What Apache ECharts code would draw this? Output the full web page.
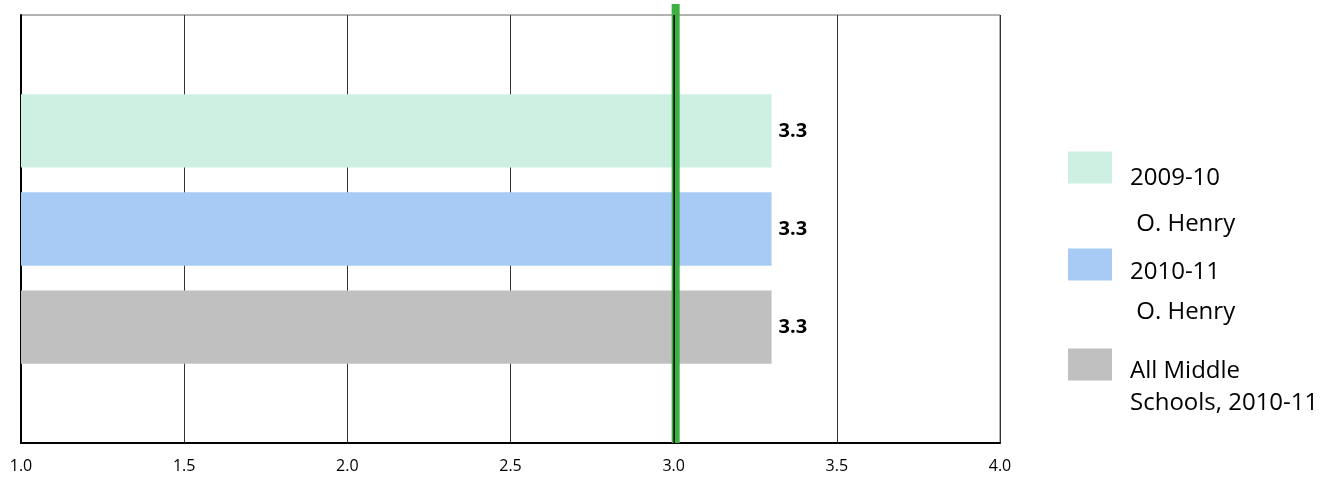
<!DOCTYPE html>
<html>
<head>
<meta charset="utf-8">
<script src="https://cdn.jsdelivr.net/npm/echarts@6/dist/echarts.min.js"></script>
<style>html,body{margin:0;padding:0;background:#fff}#c{width:1338px;height:481px}</style>
</head>
<body>
<div id="c"></div>
<script>
const categories = [''];
const seriesNames = ['2009-10 O. Henry', '2010-11 O. Henry', 'All Middle Schools, 2010-11'];
const legendLines = [['2009-10', ' O. Henry'], ['2010-11', ' O. Henry'], ['All Middle', 'Schools, 2010-11']];
const values2009 = [3.3];
const values2010 = [3.3];
const valuesAll = [3.3];
const targetValue = [3.0];
const xMin = 1.0, xMax = 4.0, xInterval = 0.5;
const colors = ['#cef0e3', '#a8cbf5', '#c0c0c0'];

const FONT = 'Open Sans';
const LFS = 24;
const chart = echarts.init(document.getElementById('c'), null, {renderer: 'canvas'});

const barLabel = {
  show: true, position: 'right', distance: 7,
  formatter: p => p.value.toFixed(1),
  color: '#000', fontFamily: FONT, fontSize: 20, fontWeight: 'bold'
};

// per-item line spacing, top spacer, bottom spacer
const legendLayout = [
  {lh: 46, top: 68, bot: 0},
  {lh: 40, top: 67.5, bot: 12.5},
  {lh: 32, top: 75, bot: 29}
];
const rich = {};
legendLayout.forEach((l, i) => {
  rich['t' + i] = {lineHeight: l.top, fontSize: 2, fontFamily: FONT};
  rich['b' + i] = {lineHeight: Math.max(l.bot, 1), fontSize: 2, fontFamily: FONT};
  rich['a' + i] = {lineHeight: l.lh, fontSize: LFS, fontFamily: FONT, color: '#000', padding: [0, 0, 0, 13]};
});

chart.setOption({
  animation: false,
  textStyle: {fontFamily: FONT},
  grid: {left: 21, right: 338, top: 15, bottom: 38, show: true, borderColor: '#666', borderWidth: 1, backgroundColor: 'transparent'},
  xAxis: {
    type: 'value', min: xMin, max: xMax, interval: xInterval,
    axisLine: {show: true, lineStyle: {color: '#000', width: 2}},
    axisTick: {show: false},
    splitLine: {show: true, lineStyle: {color: '#333', width: 1}},
    axisLabel: {formatter: v => v.toFixed(1), color: '#000', fontSize: 16, fontFamily: FONT, margin: 15}
  },
  yAxis: {
    type: 'category', data: categories,
    axisLine: {show: true, lineStyle: {color: '#000', width: 2}},
    axisTick: {show: false}, axisLabel: {show: false}, splitLine: {show: false}
  },
  legend: {
    orient: 'vertical', left: 1068, top: 87, padding: 0,
    itemWidth: 44, itemHeight: 32, itemGap: -64,
    icon: 'rect',
    data: seriesNames,
    formatter: name => {
      const i = seriesNames.indexOf(name);
      const ln = legendLines[i];
      return '{t' + i + '| }\n{a' + i + '|' + ln[0] + '}\n{a' + i + '|' + ln[1] + '}\n{b' + i + '| }';
    },
    textStyle: {fontSize: LFS, color: '#000', fontFamily: FONT, backgroundColor: 'transparent', rich: rich}
  },
  series: [
    {name: seriesNames[0], type: 'bar', data: values2009, itemStyle: {color: colors[0]}, label: barLabel, barGap: '34%', barCategoryGap: '37%'},
    {name: seriesNames[1], type: 'bar', data: values2010, itemStyle: {color: colors[1]}, label: barLabel, barGap: '34%', barCategoryGap: '37%'},
    {name: seriesNames[2], type: 'bar', data: valuesAll, itemStyle: {color: colors[2]}, label: barLabel, barGap: '34%', barCategoryGap: '37%'},
    {
      type: 'custom', name: 'target', data: targetValue.map(v => [v, 0]), z: 10, clip: false,
      encode: {x: 0, y: 1},
      renderItem: (params, api) => {
        const x = api.coord([api.value(0), 0])[0];
        const cs = params.coordSys;
        const top = cs.y - 11, bottom = cs.y + cs.height;
        return {
          type: 'group',
          children: [
            {type: 'rect', shape: {x: x - 2, y: top, width: 8, height: bottom - top}, style: {fill: '#3cb043'}},
            {type: 'line', shape: {x1: x + 0.5, y1: cs.y, x2: x + 0.5, y2: bottom}, style: {stroke: '#000', lineWidth: 1.5}}
          ]
        };
      }
    }
  ]
});
</script>
</body>
</html>
